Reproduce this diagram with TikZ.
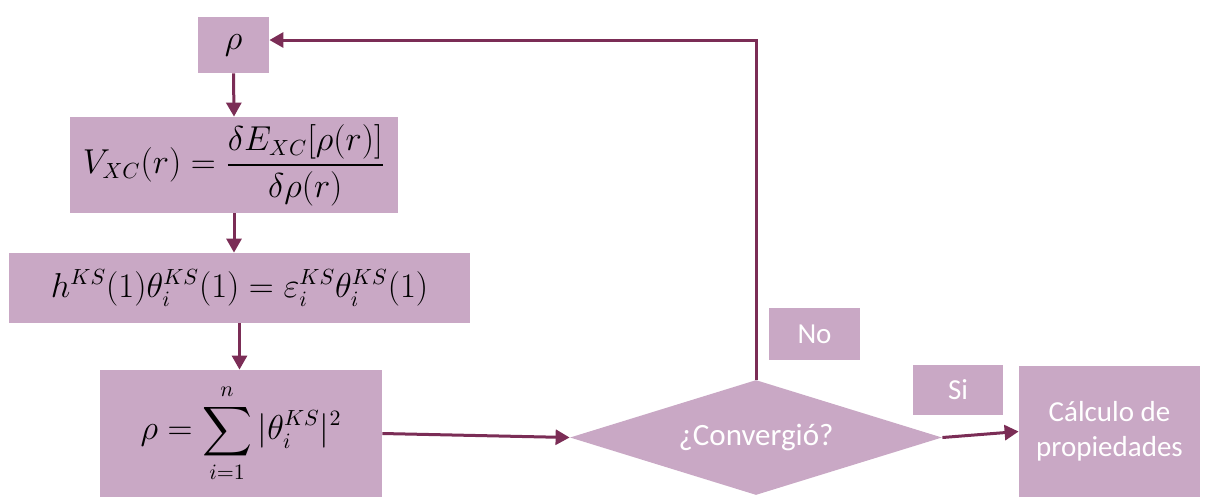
\documentclass[tikz,border=0pt]{standalone}
\usepackage{amsmath}
\usepackage{fontspec}
\setmainfont{Carlito}
\usetikzlibrary{shapes.geometric,arrows.meta}
\definecolor{boxfill}{HTML}{C9A8C5}
\definecolor{linecol}{HTML}{7B2D56}
\tikzset{
  box/.style={fill=boxfill, draw=none, inner sep=0pt, anchor=center, font=\fontsize{16}{19}\selectfont},
  lbl/.style={fill=boxfill, draw=none, inner sep=0pt, text=white, font=\fontsize{14.5}{17.5}\selectfont, align=center},
  conn/.style={draw=linecol, line width=1.5pt, -{Triangle[length=7pt,width=7.5pt]}},
}
\begin{document}
\begin{tikzpicture}[x=0.5pt,y=-0.5pt]
\useasboundingbox (0,0) rectangle (1205,500);
\node[box, minimum width=35.5pt, minimum height=28pt] (rho) at (233.5,45) {$\rho$};
\node[box, minimum width=164pt, minimum height=48pt] (V) at (234,165) {$V_{XC}(r)=\dfrac{\delta E_{XC}[\rho(r)]}{\delta\rho(r)}$};
\node[box, minimum width=230.5pt, minimum height=35pt] (h) at (239.5,288) {$h^{KS}(1)\theta_i^{KS}(1)=\varepsilon_i^{KS}\theta_i^{KS}(1)$};
\node[box, minimum width=141pt, minimum height=63.5pt] (sum) at (241,433.5) {$\displaystyle\rho=\sum_{i=1}^{n}|\theta_i^{KS}|^2$};
\node[shape=diamond, fill=boxfill, inner sep=0pt, aspect=3.23, minimum width=186pt, minimum height=57.5pt, text=white, font=\fontsize{15.5}{18}\selectfont] (conv) at (756,437.5) {¿Convergió?};
\node[lbl, minimum width=45.5pt, minimum height=26pt] (no) at (814.5,334) {No};
\node[lbl, minimum width=45pt, minimum height=25pt] (si) at (958,390) {Si};
\node[lbl, minimum width=90.5pt, minimum height=65.5pt] (calc) at (1109.5,431.5) {Cálculo de\\propiedades};
\draw[conn] (rho.south) -- (V.north);
\draw[conn] (V.south) -- (h.north -| V.south);
\draw[conn] (h.south) -- (h.south |- sum.north);
\draw[conn] (sum.east) -- (conv.west);
\draw[conn] (conv.east) -- (calc.west);
\draw[conn] (conv.north) |- ([yshift=2.5pt]rho.east);
\end{tikzpicture}
\end{document}
